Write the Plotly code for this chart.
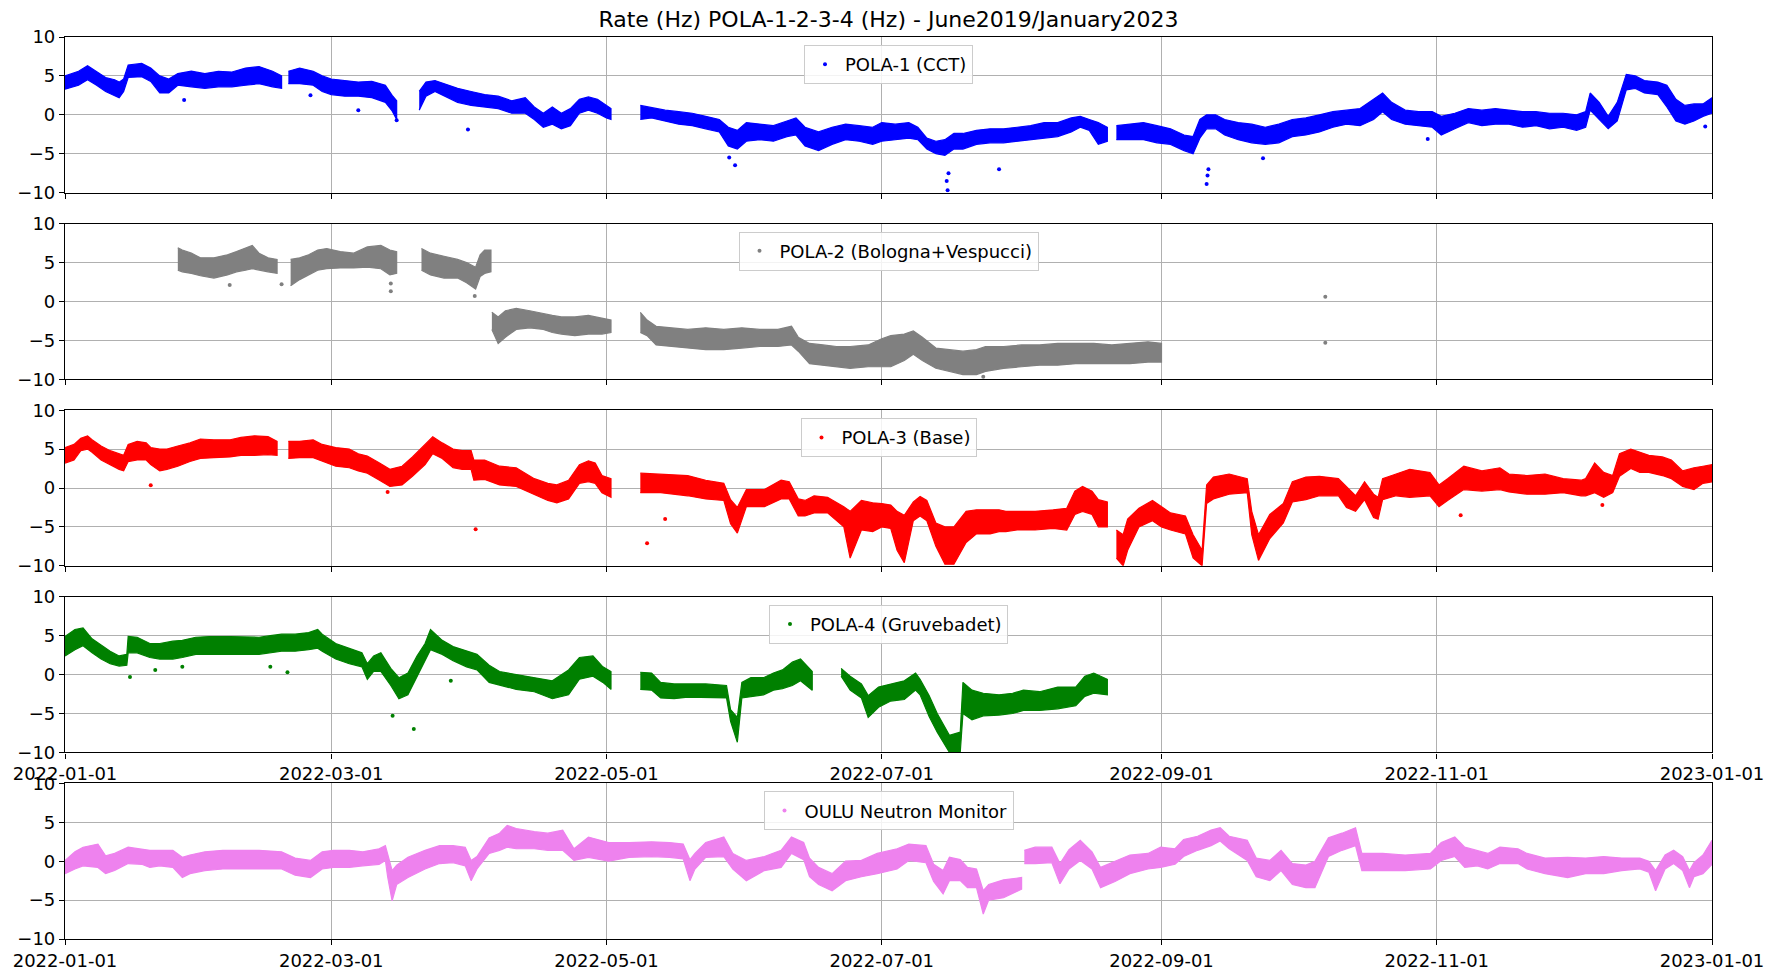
import pandas as pd
import plotly.graph_objects as go
from plotly.subplots import make_subplots

TITLE = "Rate (Hz) POLA-1-2-3-4 (Hz) - June2019/January2023"
START = "2022-01-01"
END = "2023-01-01"
TICK_DATES = ["2022-01-01", "2022-03-01", "2022-05-01", "2022-07-01",
              "2022-09-01", "2022-11-01", "2023-01-01"]
Y_TICKS = [-10, -5, 0, 5, 10]
NAMES = ["POLA-1 (CCT)", "POLA-2 (Bologna+Vespucci)", "POLA-3 (Base)",
         "POLA-4 (Gruvebadet)", "OULU Neutron Monitor"]
COLORS = ["#0000ff", "#808080", "#ff0000", "#008000", "#ee82ee"]

# ---- POLA-1 : envelope of the hourly points (day of year, low, high); None = data gap
P1_DAY = [0, 3, 5, 7, 9, 11, 12, 13, 14, 17, 19, 21, 23, 25, 28, 31, 34, 37, 40, 43, 46, 48, None,
          49.5, 52, 55, 57, 59, 62, 65, 68, 71, 72.5, 73.5, None,
          78.5, 80, 82, 84, 87, 90, 93, 96, 99, 102, 104, 106, 108, 110, 112, 114, 116, 118, 120, 121, None,
          127.5, 130, 133, 136, 139, 142, 145, 147, 149, 151, 154, 157, 160, 162, 164, 167, 170, 173, 176, 179,
          181, 184, 187, 189, 191, 193, 195, 197, 199, 202, 205, 208, 211, 214, 217, 220, 223, 225, 227, 229, 231, None,
          233, 236, 239, 242, 245, 248, 250, 251.5, 253, 255, 257, 260, 263, 266, 269, 272, 275, 278, 281, 284,
          287, 290, 292, 294, 297, 300, 303, 305, 308, 311, 314, 317, 320, 323, 326, 329, 332, 335, 337, 338,
          340, 342, 344, 346, 348, 350, 353, 355, 357, 359, 361, 363, 365]
P1_LO = [3.3, 3.8, 4.5, 3.8, 3.0, 2.5, 2.2, 3.0, 4.8, 4.9, 4.3, 2.8, 2.8, 3.8, 3.6, 3.4, 3.6, 3.6, 3.8, 4.0, 3.6, 3.4, None,
         4.0, 4.0, 3.8, 3.0, 2.6, 2.4, 2.4, 2.2, 1.6, 0.5, -0.6, None,
         0.6, 2.4, 3.0, 2.4, 1.6, 1.2, 1.0, 0.8, 0.2, 0.2, -0.6, -1.6, -1.2, -1.8, -1.4, 0.2, 0.6, 0.2, -0.4, -0.6, None,
         -0.6, -0.4, -0.8, -1.2, -1.4, -1.8, -2.2, -4.0, -4.4, -3.4, -3.2, -3.4, -2.8, -2.6, -4.0, -4.6, -3.8, -3.2, -3.4, -3.8,
         -3.4, -3.2, -3.0, -3.2, -4.4, -5.0, -5.2, -4.4, -4.4, -3.8, -3.6, -3.6, -3.4, -3.2, -3.0, -2.8, -2.2, -1.6, -2.0, -3.8, -3.4, None,
         -3.2, -3.2, -3.2, -3.6, -3.8, -4.6, -5.0, -3.0, -1.8, -1.8, -2.6, -3.2, -3.6, -3.8, -3.6, -2.8, -2.6, -2.2, -1.6, -1.2,
         -1.4, -0.6, 0.4, -0.6, -1.2, -1.4, -1.6, -2.6, -1.8, -1.0, -1.4, -1.2, -1.2, -1.6, -1.4, -1.8, -1.6, -2.0, -1.6, 0.6,
         -0.6, -1.8, -0.8, 3.2, 3.4, 2.8, 2.6, 1.0, -0.8, -1.2, -0.8, -0.2, 0.2]
P1_HI = [5.0, 5.6, 6.3, 5.5, 4.8, 4.5, 4.2, 4.6, 6.4, 6.6, 6.0, 5.0, 4.6, 5.3, 5.6, 5.3, 5.6, 5.5, 6.0, 6.2, 5.6, 5.0, None,
         5.6, 6.0, 5.6, 5.0, 4.6, 4.4, 4.2, 4.3, 3.8, 2.5, 1.8, None,
         3.0, 4.2, 4.4, 4.0, 3.4, 3.0, 2.6, 2.4, 1.8, 2.2, 1.0, 0.2, 1.0, 0.2, 0.8, 2.0, 2.3, 2.0, 1.2, 0.8, None,
         1.2, 0.9, 0.6, 0.4, 0.2, -0.2, -0.6, -1.6, -2.0, -1.0, -1.2, -1.4, -0.8, -0.4, -1.6, -2.2, -1.6, -1.2, -1.4, -1.6,
         -1.0, -1.2, -1.0, -1.6, -3.0, -3.4, -3.2, -2.4, -2.4, -2.0, -1.8, -1.8, -1.6, -1.4, -1.0, -1.0, -0.4, -0.2, -0.6, -1.0, -1.6, None,
         -1.4, -1.2, -1.0, -1.4, -1.8, -2.6, -2.8, -0.6, 0.0, 0.0, -0.6, -1.0, -1.2, -1.6, -1.2, -0.6, -0.4, 0.0, 0.4, 0.6,
         0.8, 2.0, 2.8, 1.6, 0.6, 0.4, 0.4, -0.2, 0.2, 0.8, 0.6, 0.8, 0.6, 0.4, 0.4, 0.2, 0.2, 0.0, 0.4, 2.8,
         1.6, -0.2, 1.6, 5.2, 5.0, 4.4, 4.2, 3.8, 2.0, 1.2, 1.4, 1.4, 2.2]
P1_OUT_DAY = [26.4, 54.4, 65, 73.5, 89.3, 147.2, 148.5, 195.4, 195.6, 195.8, 207, 253, 253.2, 253.4, 265.5, 302, 363.5]
P1_OUT_VAL = [1.9, 2.5, 0.6, -0.7, -1.9, -5.5, -6.5, -8.5, -9.7, -7.5, -7.0, -8.9, -7.8, -7.0, -5.6, -3.1, -1.5]

# ---- POLA-2
P2_DAY = [25, 26, 28, 30, 33, 36, 38, 40, 41.5, 43, 45, 47, None,
          50, 52, 54, 56, 58, 61, 64, 67, 70, 72, 73.5, None,
          79, 81, 84, 87, 89, 91, 92, 93, 94.4, None,
          94.6, 96, 97.6, 100, 103, 106, 108, 110, 113, 116, 119, 121, None,
          127.5, 129, 131, 134, 138, 142, 146, 150, 154, 158, 161, 162.5, 165, 168, 171, 174, 178, 181, 183, 186,
          188, 190, 193, 196, 199, 202, 204, 208, 212, 216, 220, 224, 228, 232, 236, 240, 243]
P2_LO = [4.0, 3.8, 3.6, 3.3, 3.0, 3.4, 3.8, 4.0, 4.2, 4.0, 3.8, 3.6, None,
         2.0, 2.8, 3.4, 4.0, 4.2, 4.3, 4.3, 4.4, 4.2, 3.4, 3.6, None,
         4.0, 3.4, 3.0, 3.0, 2.4, 1.6, 3.2, 3.6, 3.8, None,
         -3.6, -5.4, -4.6, -3.6, -3.4, -3.6, -4.0, -4.2, -4.4, -4.2, -4.2, -4.0, None,
         -4.0, -4.4, -5.6, -5.8, -6.0, -6.2, -6.2, -6.0, -5.8, -5.8, -5.6, -6.4, -8.0, -8.2, -8.4, -8.6, -8.4, -8.4, -8.4, -7.6,
         -6.8, -7.6, -8.6, -9.0, -9.4, -9.4, -9.0, -8.6, -8.4, -8.2, -8.2, -8.0, -8.0, -8.0, -8.0, -7.8, -7.8]
P2_HI = [6.9, 6.6, 6.2, 5.6, 5.6, 6.0, 6.4, 6.8, 7.2, 6.2, 5.6, 5.4, None,
         5.4, 5.6, 6.0, 6.6, 6.8, 6.4, 6.2, 7.0, 7.2, 6.6, 6.4, None,
         6.8, 6.2, 5.8, 5.4, 5.0, 4.4, 6.0, 6.6, 6.6, None,
         -1.4, -2.0, -1.2, -0.9, -1.2, -1.6, -1.8, -2.0, -2.0, -1.8, -2.2, -2.4, None,
         -1.4, -2.4, -3.2, -3.4, -3.6, -3.4, -3.6, -3.4, -3.6, -3.6, -3.2, -4.6, -5.4, -5.6, -5.8, -5.8, -5.6, -4.8, -4.4, -4.2,
         -3.8, -4.6, -6.0, -6.2, -6.4, -6.2, -5.8, -5.8, -5.6, -5.6, -5.4, -5.4, -5.4, -5.6, -5.4, -5.2, -5.4]
P2_OUT_DAY = [36.5, 48, 72.2, 72.2, 90.8, 203.5, 279.3, 279.3]
P2_OUT_VAL = [2.1, 2.2, 2.3, 1.3, 0.7, -9.7, 0.6, -5.3]

# ---- POLA-3
P3_DAY = [0, 2, 3.5, 5, 6, 8, 10, 12, 13, 14, 16, 18, 19, 21, 22.6, 25, 27.7, 30, 33, 36.6, 39, 42, 45, 47, None,
          49.5, 52, 55, 57, 60, 63, 65, 67, 69.7, 72, 74.7, 77, 79.8, 81.5, 83.6, 86, 88, 90, 90.6, 93,
          96.3, 100, 104, 107, 109, 111.6, 114, 116, 117.5, 119, 121, None,
          127.5, 132, 138, 142, 146, 147.5, 149, 151, 155, 158.7, 160.5, 162.5, 164, 166, 169, 172.6, 174, 176.5, 179, 181,
          183, 184.4, 186, 188, 189.5, 191, 193, 195, 197, 199.7, 202, 205, 207, 208.5, 211, 215, 219, 222, 223.8, 225.5,
          227.6, 229, 231, None,
          233, 234.5, 235.5, 238, 241, 243, 245, 248.3, 250, 252, 253, 254.5, 258, 262, 263, 264.5, 267, 270, 272, 275,
          278, 282.2, 284, 286, 288, 290, 291, 292, 295, 298, 302.5, 304.5, 306.4, 310, 314, 318, 320, 324, 328, 332,
          336, 337, 339, 341, 343, 344.5, 347, 349, 351, 354, 356, 358.5, 361, 363, 365]
P3_LO = [3.2, 3.6, 4.8, 5.0, 4.6, 3.6, 3.0, 2.4, 2.2, 3.4, 3.6, 3.6, 3.0, 2.2, 2.4, 2.8, 3.4, 3.8, 3.9, 4.0, 4.2, 4.2, 4.3, 4.2, None,
         3.8, 3.9, 3.9, 3.4, 2.8, 2.6, 2.2, 1.9, 1.0, 0.2, 0.4, 1.5, 3.0, 4.4, 3.8, 2.6, 2.4, 2.4, 1.0, 1.1,
         0.4, 0.2, -0.8, -1.6, -1.9, -1.4, 0.6, 0.8, 0.6, -0.6, -1.2, None,
         -0.6, -0.6, -1.0, -1.4, -1.6, -4.6, -5.8, -2.4, -2.4, -1.4, -1.4, -3.6, -3.6, -3.2, -3.2, -5.0, -9.0, -5.4, -5.6, -5.0,
         -5.2, -8.0, -9.6, -4.2, -3.6, -4.2, -7.5, -9.8, -9.8, -7.0, -5.9, -5.9, -5.6, -5.6, -5.4, -5.4, -5.2, -5.4, -3.4, -3.0,
         -3.4, -5.0, -5.0, None,
         -9.0, -10, -8.0, -5.0, -4.2, -5.0, -5.4, -5.9, -9.0, -10, -2.0, -1.4, -0.8, -0.6, -6.0, -9.3, -6.5, -4.5, -1.8, -1.5,
         -1.0, -1.0, -2.5, -3.0, -1.5, -3.8, -4.0, -1.5, -1.0, -1.2, -1.0, -2.4, -1.6, -0.2, -0.4, -0.2, -0.5, -0.8, -0.8, -0.6,
         -1.0, -1.0, -0.6, -1.2, -0.6, 1.5, 2.5, 2.0, 2.0, 1.6, 1.2, 0.2, -0.2, 0.6, 0.8]
P3_HI = [5.2, 5.6, 6.4, 6.7, 6.2, 5.4, 4.8, 4.4, 4.2, 5.6, 6.0, 5.8, 5.2, 5.0, 5.0, 5.4, 5.8, 6.3, 6.2, 6.2, 6.5, 6.7, 6.6, 6.0, None,
         6.0, 6.0, 6.2, 5.6, 5.2, 5.0, 4.4, 4.1, 3.2, 2.4, 2.8, 4.0, 5.6, 6.6, 5.8, 5.0, 4.8, 4.8, 3.6, 3.6,
         2.8, 2.6, 1.2, 0.6, 0.4, 1.0, 3.0, 3.5, 3.2, 1.6, 1.2, None,
         1.9, 1.8, 1.6, 1.0, 0.6, -1.5, -2.5, -0.2, -0.2, 1.0, 0.8, -1.4, -1.6, -1.0, -1.2, -2.4, -3.0, -1.6, -1.9, -2.0,
         -2.2, -3.0, -3.5, -1.8, -1.1, -1.6, -4.5, -5.0, -5.0, -3.0, -2.8, -2.8, -2.8, -3.0, -3.0, -3.0, -2.8, -2.6, -0.4, 0.2,
         -0.4, -1.5, -1.8, None,
         -5.4, -6.0, -4.0, -2.6, -1.6, -2.4, -3.2, -3.6, -6.0, -8.0, 0.4, 1.4, 1.8, 1.2, -3.0, -6.0, -3.4, -2.0, 0.8, 1.4,
         1.5, 1.2, 0.2, -1.0, 0.8, -0.8, -1.2, 1.2, 1.8, 2.4, 2.0, 0.4, 1.2, 2.8, 2.2, 2.6, 1.8, 1.6, 1.8, 1.2,
         1.0, 1.2, 3.2, 2.0, 1.6, 4.4, 5.0, 4.6, 4.2, 4.0, 3.6, 2.2, 2.6, 2.8, 3.0]
P3_OUT_DAY = [19, 71.5, 91, 129, 133, 309.3, 340.7]
P3_OUT_VAL = [0.35, -0.5, -5.3, -7.1, -4.0, -3.5, -2.2]

# ---- POLA-4
P4_DAY = [0, 2.2, 4, 6, 8, 10, 12, 13.7, 14, 16, 18.8, 21, 23.9, 26, 29, 32, 36.6, 40, 43, 45.5,
          48, 51, 54, 56, 57, 60, 63, 65.8, 67, 68.4, 70, 72.2, 74, 76, 78, 79.8, 81, 83.6, 86, 89,
          91.3, 94, 96.3, 100, 104, 108, 111.6, 114, 117, 119.2, 121, None,
          127.5, 130, 132, 135, 138, 142, 146.6, 147.5, 149, 150, 152, 154.8, 157, 159, 161.2, 163, 165.6, None,
          172, 174, 176.5, 178, 180.3, 183, 186, 188.5, 189.5, 191.5, 193.3, 196, 198.4, 199, 201, 203.5, 207, 210, 212.4, 216,
          220, 224, 226, 228, 231]
P4_LO = [2.4, 3.2, 3.7, 2.8, 2.0, 1.4, 1.1, 1.2, 2.8, 2.8, 2.2, 2.0, 2.0, 2.2, 2.6, 2.6, 2.6, 2.6, 2.6, 2.8,
         3.0, 3.0, 3.2, 3.4, 3.0, 2.0, 1.4, 1.0, -0.6, 0.4, 0.4, -1.4, -3.1, -2.6, -0.4, 1.8, 3.2, 2.6, 1.8, 1.0,
         0.6, -1.0, -1.4, -1.9, -2.2, -3.1, -2.6, -0.6, -0.2, -1.0, -1.9, None,
         -1.9, -2.0, -3.0, -3.1, -2.9, -2.9, -3.0, -6.0, -8.7, -3.0, -2.8, -2.6, -2.0, -1.8, -1.4, -0.8, -2.0, None,
         -0.2, -2.0, -3.0, -5.5, -4.2, -3.4, -3.2, -2.0, -2.6, -5.4, -7.4, -10, -10, -5.0, -5.8, -5.3, -5.2, -5.0, -4.6, -4.6,
         -4.4, -4.0, -2.8, -2.4, -2.6]
P4_HI = [4.9, 5.8, 6.0, 4.6, 3.8, 3.0, 2.4, 2.6, 4.9, 4.8, 4.0, 4.0, 4.3, 4.4, 4.8, 4.9, 4.9, 4.8, 4.8, 5.0,
         5.2, 5.2, 5.4, 5.8, 5.2, 4.0, 3.4, 2.8, 1.4, 2.4, 2.8, 0.8, -0.4, 0.2, 2.4, 4.0, 5.8, 4.4, 3.6, 3.0,
         2.6, 1.2, 0.4, 0.0, -0.4, -0.8, 0.6, 2.2, 2.4, 1.0, 0.4, None,
         0.3, 0.2, -1.0, -1.2, -1.2, -1.2, -1.4, -4.5, -5.5, -1.0, -0.4, -0.4, 0.2, 0.6, 1.6, 2.0, 0.4, None,
         0.8, -0.2, -1.2, -2.7, -1.6, -1.2, -0.8, 0.2, -0.6, -2.7, -5.0, -7.8, -7.4, -1.0, -2.0, -2.4, -2.6, -2.4, -2.0, -2.2,
         -1.6, -1.6, -0.2, 0.2, -0.6]
P4_OUT_DAY = [14.4, 20, 26, 45.5, 49.3, 72.6, 77.3, 85.5]
P4_OUT_VAL = [-0.3, 0.6, 1.0, 1.0, 0.3, -5.3, -7.0, -0.8]

# ---- OULU Neutron Monitor
P5_DAY = [0, 2.2, 4, 7.3, 9, 11, 14, 17, 18.8, 21, 23.9, 26, 27.7, 31, 35, 39, 43, 48, 51, 54.4,
          57, 59.5, 63, 66, 69.6, 71, 71.5, 72.5, 73.5, 76, 79.8, 83, 86, 88.7, 90, 91.3, 94, 96.3, 98, 100,
          104, 107, 110.3, 112.8, 116, 120.5, 125, 130, 134, 137, 138.5, 139.6, 142, 146, 148, 151, 155, 158.7, 161, 163.7,
          165, 167, 170, 173, 176.5, 180, 184.4, 187, 190.8, 192.5, 194.6, 196, 198.4, 200, 202, 203.5, 204.7, 208, 212, None,
          212.6, 215, 218.7, 220.5, 222.5, 225, 227.6, 229.5, 232.7, 236, 240, 242.8, 246, 247.9, 251, 254, 256, 258, 262, 264,
          267, 269.5, 272, 275, 277, 280, 283, 286, 287.4, 292, 297, 302.6, 305, 308, 310.2, 313, 315.3, 318, 322, 324,
          328, 333, 337, 341, 345, 349, 351, 352.5, 354.6, 356.5, 358.5, 360, 361, 363, 365]
P5_LO = [-1.6, -1.0, -0.6, -0.8, -1.6, -1.2, -0.3, -0.4, -0.8, -0.6, -0.8, -2.1, -1.6, -1.2, -1.0, -1.0, -1.0, -1.0, -1.8, -2.1,
         -1.0, -0.8, -0.8, -0.6, -0.4, 0.1, -2.0, -5.1, -3.0, -2.1, -1.0, -0.3, -0.2, -0.6, -2.5, -1.0, 1.0, 1.4, 1.8, 1.6,
         1.6, 1.4, 1.4, 0.1, 0.5, 0.0, 0.5, 0.6, 0.5, 0.3, -2.5, -1.0, 0.5, 0.6, -1.0, -2.5, -1.2, -0.8, 1.0, 0.2,
         -2.0, -3.0, -3.8, -2.5, -2.0, -1.6, -1.0, 0.1, -0.2, -2.6, -4.2, -2.5, -2.5, -3.4, -3.4, -6.8, -5.0, -4.7, -3.6, None,
         -0.3, -0.3, -0.2, -2.9, -1.0, 0.1, -1.0, -3.4, -2.6, -1.6, -1.0, -0.8, -0.4, 0.6, 1.4, 2.0, 2.6, 1.6, 0.1, -2.0,
         -2.5, -1.2, -3.0, -3.4, -3.4, 0.6, 1.4, 2.0, -1.2, -1.2, -1.2, -1.0, 0.1, 0.6, -0.8, -0.6, -1.0, -0.3, -0.3, -1.0,
         -1.6, -2.1, -1.6, -1.6, -1.2, -1.0, -1.4, -3.8, -1.0, -0.3, -1.2, -3.4, -2.0, -1.6, -0.4]
P5_HI = [0.1, 1.2, 1.8, 2.2, 0.7, 1.0, 1.8, 1.6, 1.4, 1.4, 1.4, 0.5, 0.8, 1.2, 1.4, 1.4, 1.4, 1.2, 0.4, 0.1,
         1.2, 1.4, 1.4, 1.2, 1.6, 2.0, 0.8, -1.2, -0.5, 0.5, 1.4, 2.0, 2.0, 1.8, 0.1, 0.6, 3.0, 3.6, 4.6, 4.2,
         3.8, 3.6, 4.0, 1.6, 3.1, 2.4, 2.4, 2.5, 2.4, 2.2, 0.2, 1.0, 2.4, 3.1, 1.0, 0.1, 0.6, 1.4, 3.1, 2.4,
         0.4, -0.8, -1.6, 0.0, 0.1, 1.0, 1.6, 2.2, 2.0, -0.4, -1.2, 0.5, 0.2, -0.8, -1.0, -3.8, -3.0, -2.4, -2.1, None,
         1.4, 1.8, 1.8, -0.3, 1.5, 2.7, 1.2, -0.8, 0.0, 0.8, 1.0, 1.8, 1.6, 2.8, 3.2, 4.0, 4.3, 3.2, 2.7, 0.4,
         0.1, 1.4, -0.3, -0.5, 0.0, 3.0, 3.6, 4.3, 1.0, 1.0, 0.8, 1.0, 2.4, 3.1, 1.8, 1.4, 1.0, 1.8, 1.6, 1.0,
         0.4, 0.5, 0.4, 0.6, 0.4, 0.4, 0.0, -1.2, 0.8, 1.4, 0.6, -1.2, -0.2, 0.8, 2.7]
P5_OUT_DAY = []
P5_OUT_VAL = []

SERIES = [
    (P1_DAY, P1_LO, P1_HI, P1_OUT_DAY, P1_OUT_VAL),
    (P2_DAY, P2_LO, P2_HI, P2_OUT_DAY, P2_OUT_VAL),
    (P3_DAY, P3_LO, P3_HI, P3_OUT_DAY, P3_OUT_VAL),
    (P4_DAY, P4_LO, P4_HI, P4_OUT_DAY, P4_OUT_VAL),
    (P5_DAY, P5_LO, P5_HI, P5_OUT_DAY, P5_OUT_VAL),
]

BASE = pd.Timestamp(START)


def to_date(d):
    return BASE + pd.Timedelta(days=d)


def segments(days, lo, hi):
    assert len(days) == len(lo) == len(hi), (len(days), len(lo), len(hi))
    segs, cur = [], []
    for d, l, h in zip(days, lo, hi):
        if d is None:
            if cur:
                segs.append(cur)
            cur = []
        else:
            cur.append((d, l, h))
    if cur:
        segs.append(cur)
    return segs


FONT = "DejaVu Sans"
N = 5
# page body adds an 8px margin, so the figure is 8px smaller than the window
FIG_W, FIG_H = 1771, 965
M_L, M_R, M_T, M_B = 57, 67, 29, 34
PLOT_H = FIG_H - M_T - M_B
VSP = 31 / PLOT_H
fig = make_subplots(rows=N, cols=1, vertical_spacing=VSP)

for i, (days, lo, hi, od, ov) in enumerate(SERIES):
    row = i + 1
    color = COLORS[i]
    for seg in segments(days, lo, hi):
        xs = [to_date(s[0]) for s in seg]
        ys_hi = [s[2] for s in seg]
        ys_lo = [s[1] for s in seg]
        fig.add_trace(go.Scatter(
            x=xs + xs[::-1], y=ys_hi + ys_lo[::-1], mode="lines",
            fill="toself", fillcolor=color, line=dict(color=color, width=1.2),
            showlegend=False, hoverinfo="skip"), row=row, col=1)
    leg = "legend" if i == 0 else f"legend{i + 1}"
    fig.add_trace(go.Scatter(
        x=[to_date(d) for d in od] if od else [None],
        y=list(ov) if ov else [None],
        mode="markers", marker=dict(color=color, size=4),
        name=NAMES[i], legend=leg, showlegend=True), row=row, col=1)

for i in range(N):
    row = i + 1
    fig.update_xaxes(
        type="date", range=[START, END], tickvals=TICK_DATES, ticktext=TICK_DATES,
        showticklabels=(row >= 4), ticks="outside", ticklen=5, tickcolor="black",
        showline=True, linecolor="black", linewidth=1.2, mirror=True,
        showgrid=True, gridcolor="#b0b0b0", gridwidth=1, zeroline=False, automargin=False,
        tickfont=dict(family=FONT, size=18, color="black"), row=row, col=1)
    fig.update_yaxes(
        range=[-10, 10], tickvals=Y_TICKS, ticks="outside", ticklen=5, tickcolor="black",
        showline=True, linecolor="black", linewidth=1.2, mirror=True,
        showgrid=True, gridcolor="#b0b0b0", gridwidth=1, zeroline=False, automargin=False,
        tickfont=dict(family=FONT, size=18, color="black"), row=row, col=1)

layout_legends = {}
for i in range(N):
    key = "legend" if i == 0 else f"legend{i + 1}"
    yax = "yaxis" if i == 0 else f"yaxis{i + 1}"
    top = fig.layout[yax].domain[1]
    layout_legends[key] = dict(
        x=0.5, xanchor="center", y=top - 8 / PLOT_H, yanchor="top",
        bgcolor="rgba(255,255,255,0.85)", bordercolor="#cccccc", borderwidth=1,
        font=dict(family=FONT, size=18, color="black"), itemsizing="trace")

fig.update_layout(
    width=FIG_W, height=FIG_H,
    margin=dict(l=M_L, r=M_R, t=M_T, b=M_B, autoexpand=False),
    paper_bgcolor="white", plot_bgcolor="white",
    font=dict(family=FONT, size=18, color="black"),
    title=dict(text=TITLE, x=0.5, xref="paper", xanchor="center",
               y=1 - 11 / FIG_H, yref="container", yanchor="middle",
               font=dict(family=FONT, size=22, color="black")),
    showlegend=True,
    **layout_legends,
)

fig.write_html("out.html")
